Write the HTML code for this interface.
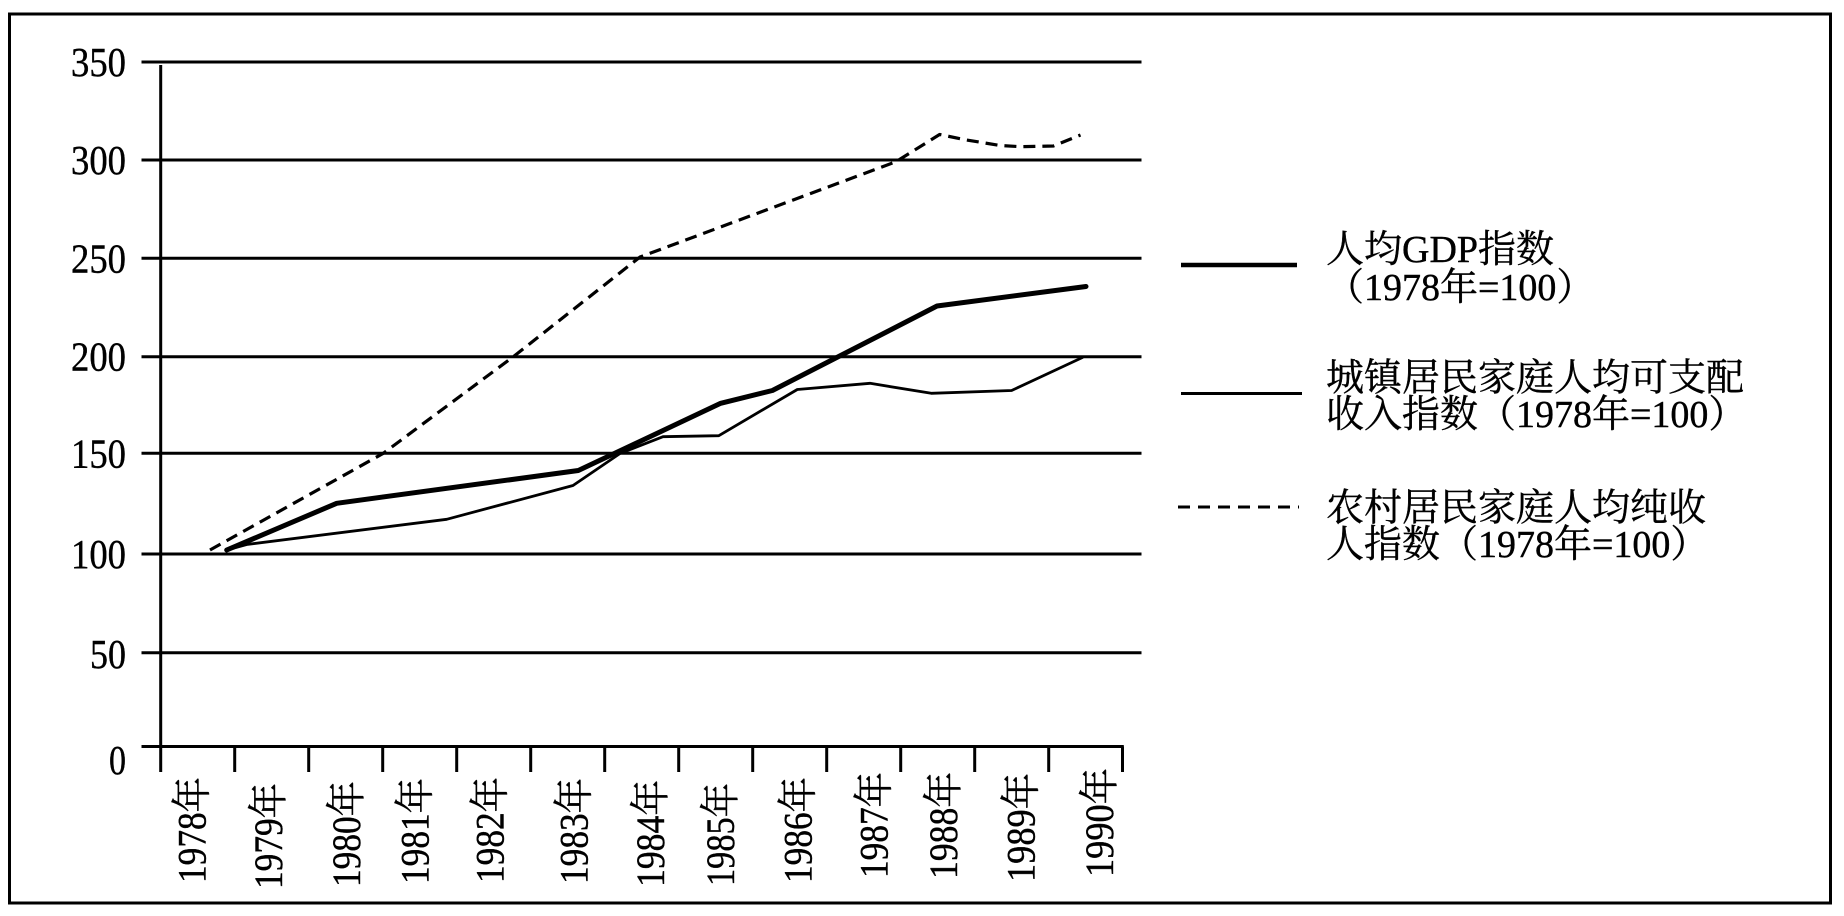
<!DOCTYPE html>
<html>
<head>
<meta charset="utf-8">
<style>
  html,body{margin:0;padding:0;background:#fff;}
  svg{display:block;}
  text{font-family:"Liberation Serif","Noto Serif CJK SC",serif;fill:#000;stroke:#000;stroke-width:0.4;}
</style>
</head>
<body>
<svg width="1844" height="916" viewBox="0 0 1844 916" xmlns="http://www.w3.org/2000/svg">
  <rect x="0" y="0" width="1844" height="916" fill="#fff"/>
  <!-- outer frame -->
  <rect x="9.5" y="14" width="1821" height="889" fill="none" stroke="#000" stroke-width="3"/>

  <!-- gridlines -->
  <g stroke="#000" stroke-width="3" fill="none">
    <line x1="141.5" y1="62" x2="1141.5" y2="62"/>
    <line x1="141.5" y1="160" x2="1141.5" y2="160"/>
    <line x1="141.5" y1="258.3" x2="1141.5" y2="258.3"/>
    <line x1="141.5" y1="356.7" x2="1141.5" y2="356.7"/>
    <line x1="141.5" y1="453.3" x2="1141.5" y2="453.3"/>
    <line x1="141.5" y1="554" x2="1141.5" y2="554"/>
    <line x1="141.5" y1="652.7" x2="1141.5" y2="652.7"/>
    <!-- x axis -->
    <line x1="141.5" y1="746.5" x2="1123.8" y2="746.5"/>
    <!-- y axis -->
    <line x1="160.7" y1="65" x2="160.7" y2="772"/>
    <!-- x ticks -->
    <line x1="234.7" y1="746.5" x2="234.7" y2="772"/>
    <line x1="308.7" y1="746.5" x2="308.7" y2="772"/>
    <line x1="382.7" y1="746.5" x2="382.7" y2="772"/>
    <line x1="456.7" y1="746.5" x2="456.7" y2="772"/>
    <line x1="530.7" y1="746.5" x2="530.7" y2="772"/>
    <line x1="604.7" y1="746.5" x2="604.7" y2="772"/>
    <line x1="678.7" y1="746.5" x2="678.7" y2="772"/>
    <line x1="752.7" y1="746.5" x2="752.7" y2="772"/>
    <line x1="826.7" y1="746.5" x2="826.7" y2="772"/>
    <line x1="900.7" y1="746.5" x2="900.7" y2="772"/>
    <line x1="974.7" y1="746.5" x2="974.7" y2="772"/>
    <line x1="1048.7" y1="746.5" x2="1048.7" y2="772"/>
    <line x1="1122.5" y1="746.5" x2="1122.5" y2="772"/>
  </g>

  <!-- y labels -->
  <g font-size="41" text-anchor="end" dominant-baseline="central">
    <text x="126" y="62" textLength="55" lengthAdjust="spacingAndGlyphs">350</text>
    <text x="126" y="160" textLength="55" lengthAdjust="spacingAndGlyphs">300</text>
    <text x="126" y="258.3" textLength="55" lengthAdjust="spacingAndGlyphs">250</text>
    <text x="126" y="356.7" textLength="55" lengthAdjust="spacingAndGlyphs">200</text>
    <text x="126" y="453.3" textLength="55" lengthAdjust="spacingAndGlyphs">150</text>
    <text x="126" y="554" textLength="55" lengthAdjust="spacingAndGlyphs">100</text>
    <text x="126" y="654" textLength="36" lengthAdjust="spacingAndGlyphs">50</text>
    <text x="126" y="760" textLength="17" lengthAdjust="spacingAndGlyphs">0</text>
  </g>

  <!-- x labels (rotated) -->
  <g font-size="40" text-anchor="end" dominant-baseline="central">
    <text transform="translate(192,777) rotate(-90)" textLength="106" lengthAdjust="spacingAndGlyphs">1978年</text>
    <text transform="translate(268.7,783) rotate(-90)" textLength="106" lengthAdjust="spacingAndGlyphs">1979年</text>
    <text transform="translate(346.3,781) rotate(-90)" textLength="106" lengthAdjust="spacingAndGlyphs">1980年</text>
    <text transform="translate(415.2,778) rotate(-90)" textLength="106" lengthAdjust="spacingAndGlyphs">1981年</text>
    <text transform="translate(490,777) rotate(-90)" textLength="106" lengthAdjust="spacingAndGlyphs">1982年</text>
    <text transform="translate(574,778) rotate(-90)" textLength="106" lengthAdjust="spacingAndGlyphs">1983年</text>
    <text transform="translate(650.7,780) rotate(-90)" textLength="107" lengthAdjust="spacingAndGlyphs">1984年</text>
    <text transform="translate(720.6,783) rotate(-90)" textLength="103" lengthAdjust="spacingAndGlyphs">1985年</text>
    <text transform="translate(798,777) rotate(-90)" textLength="106" lengthAdjust="spacingAndGlyphs">1986年</text>
    <text transform="translate(874,772) rotate(-90)" textLength="106" lengthAdjust="spacingAndGlyphs">1987年</text>
    <text transform="translate(943.7,772) rotate(-90)" textLength="107" lengthAdjust="spacingAndGlyphs">1988年</text>
    <text transform="translate(1021,773) rotate(-90)" textLength="109" lengthAdjust="spacingAndGlyphs">1989年</text>
    <text transform="translate(1099.4,768) rotate(-90)" textLength="109" lengthAdjust="spacingAndGlyphs">1990年</text>
  </g>

  <!-- series -->
  <g fill="none" stroke="#000" stroke-linejoin="round" stroke-linecap="round">
    <!-- rural (dashed) -->
    <polyline stroke-width="3.2" stroke-dasharray="12 7" stroke-linecap="butt"
      points="210,550 383.3,453.3 513.3,356.7 640,257 896,161.7 939.6,134.5 966.7,140 1000,145.5 1020.9,146.7 1053.4,146 1080.5,135"/>
    <!-- urban (thin) -->
    <polyline stroke-width="2.8"
      points="226.7,550 246.7,544.5 446.7,519.3 573,485.5 620,453.5 663,436.7 718.8,435.7 797.3,389.5 870,383.3 931.2,393.3 1011.6,390.5 1082.4,357.5"/>
    <!-- GDP (thick) -->
    <polyline stroke-width="5"
      points="226.7,550 336.7,503.3 578.3,470.5 720.7,403.3 772.4,390.5 937,306 1086,286.5"/>
  </g>

  <!-- legend -->
  <g stroke="#000" fill="none">
    <line x1="1181" y1="265" x2="1297" y2="265" stroke-width="4.5"/>
    <line x1="1181" y1="393.5" x2="1302" y2="393.5" stroke-width="3"/>
    <line x1="1178" y1="507" x2="1299" y2="507" stroke-width="3" stroke-dasharray="12 8"/>
  </g>
  <g font-size="38">
    <text x="1326" y="262">人均GDP指数</text>
    <text x="1326" y="300">（1978年=100）</text>
    <text x="1326" y="390.5">城镇居民家庭人均可支配</text>
    <text x="1326" y="427">收入指数（1978年=100）</text>
    <text x="1326" y="520.5">农村居民家庭人均纯收</text>
    <text x="1326" y="557">人指数（1978年=100）</text>
  </g>
</svg>
</body>
</html>
